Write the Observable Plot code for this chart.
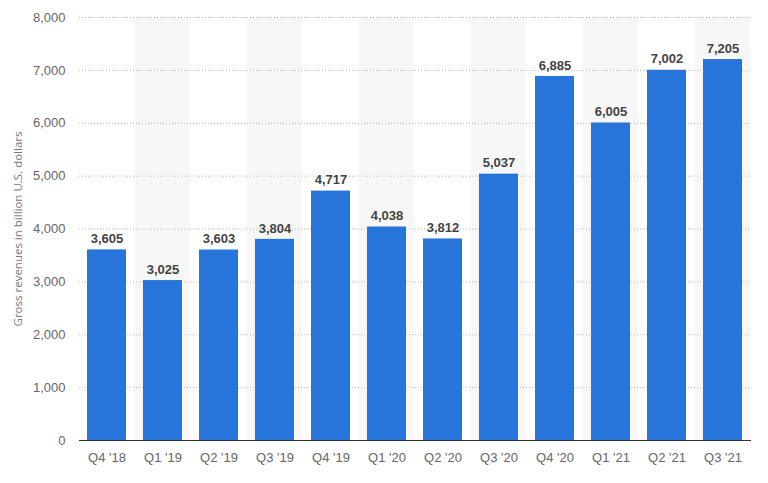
<!DOCTYPE html>
<html>
<head>
<meta charset="utf-8">
<script src="https://cdn.jsdelivr.net/npm/d3@7"></script>
<script src="https://cdn.jsdelivr.net/npm/@observablehq/plot@0.6"></script>
<style>
  html, body { margin: 0; padding: 0; background: #fff; }
  #chart svg { display: block; }
</style>
</head>
<body>
<div id="chart"></div>
<script>
const quarters = ["Q4 '18","Q1 '19","Q2 '19","Q3 '19","Q4 '19","Q1 '20","Q2 '20","Q3 '20","Q4 '20","Q1 '21","Q2 '21","Q3 '21"];
const revenues = [3605, 3025, 3603, 3804, 4717, 4038, 3812, 5037, 6885, 6005, 7002, 7205];
const yTicks = [0, 1000, 2000, 3000, 4000, 5000, 6000, 7000, 8000];

const data = quarters.map((q, i) => ({quarter: q, value: revenues[i], idx: i}));
const shaded = data.filter(d => d.idx % 2 === 1);
const fmt = d3.format(",");

const chart = Plot.plot({
  width: 768,
  height: 483,
  marginLeft: 79,
  marginRight: 17,
  marginTop: 17,
  marginBottom: 43,
  style: {fontFamily: "'Liberation Sans', Arial, sans-serif", fontSize: "12px", background: "#fff"},
  x: {domain: quarters, paddingInner: 0.3, paddingOuter: 0.15, label: null, tickSize: 0, tickPadding: 12},
  y: {domain: [0, 8000], ticks: yTicks, tickFormat: fmt, label: null, tickSize: 0, tickPadding: 14},
  marks: [
    Plot.barY(shaded, {x: "quarter", y1: 0, y2: 8000, fill: "#f7f7f7", insetLeft: -8.4, insetRight: -8.4}),
    Plot.gridY(yTicks.filter(t => t > 0), {stroke: "#bbb", strokeOpacity: 1, strokeDasharray: "1,2", strokeWidth: 1}),
    Plot.barY(data, {x: "quarter", y: "value", fill: "#2774db"}),
    Plot.ruleY([0], {stroke: "#333", strokeWidth: 1.2}),
    Plot.text(data, {x: "quarter", y: "value", text: d => fmt(d.value), dy: -11, fill: "#444", fontWeight: "bold", fontSize: 13}),
    Plot.axisX({tickSize: 0, tickPadding: 12, fill: "#666", fontSize: 13, label: null}),
    Plot.axisY({ticks: yTicks, tickFormat: fmt, tickSize: 0, tickPadding: 14, fill: "#666", fontSize: 13, label: null}),
    Plot.text(["Gross revenues in billion U.S. dollars"], {frameAnchor: "left", textAnchor: "middle", dx: -61, rotate: -90, fill: "#777", fontSize: 11.5, fontFamily: "'Open Sans', sans-serif"})
  ]
});
document.getElementById("chart").appendChild(chart);
</script>
</body>
</html>
